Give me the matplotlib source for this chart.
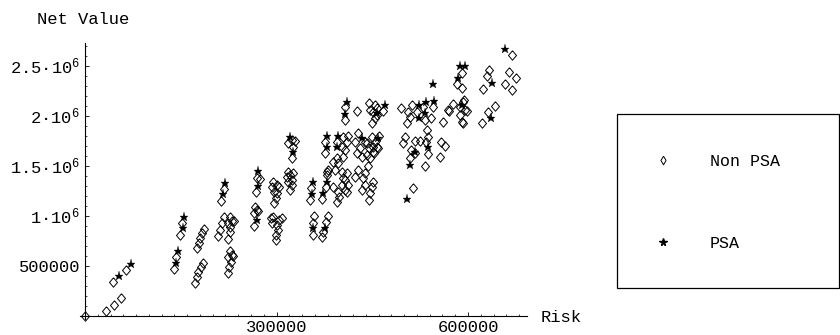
import matplotlib
matplotlib.use('Agg')
import matplotlib.pyplot as plt
from matplotlib.ticker import FixedLocator, MultipleLocator, FixedFormatter
from matplotlib.patches import Rectangle

plt.rcParams['font.family'] = ['Liberation Mono', 'DejaVu Sans']
plt.rcParams['mathtext.fontset'] = 'custom'
plt.rcParams['mathtext.rm'] = 'Liberation Mono'
plt.rcParams['mathtext.default'] = 'regular'

# ---------------- data ----------------
nonpsa_risk = [
    0, 32900, 45400, 55900, 44300, 64200,
    139000, 142100, 149300, 151500,
    175500, 178100, 180900, 183800, 186400,
    172300, 175000, 177500, 181300, 184400,
    217800, 213800,
    208800, 211500, 214200, 217000, 227200, 230300, 234200, 224500, 227900, 226400, 223600,
    227200, 230800, 224500, 228300, 225600, 223600, 232300,
    269000, 273400, 267900, 266300, 269000, 271800, 264800, 264800,
    295000, 292500, 300300, 304400, 296600, 301300, 299200, 296600,
    290900, 295000, 293400, 304400, 308200, 300300, 302800, 299200, 298800,
    323800, 329000, 318500, 325400, 323500,
    318500, 321200, 326300, 316000, 324800, 318500, 323800, 321200,
    353600, 353000, 359200, 357700, 356400, 379600, 377600, 370800, 379900, 377600, 372900, 370800,
    376000, 376000, 394300, 404700, 410000, 412500, 402100, 407300, 404700, 394300, 389000, 396800,
    391700, 381200, 378600, 402100, 410000, 407300, 412500, 402100, 396800, 398400, 395300, 410000, 389000,
    423000, 428200, 438600, 441300, 430800, 425600, 433500, 449200, 461100, 454300, 451700, 445400,
    457000, 459500, 451700, 453200, 441300, 446500, 443800, 438600,
    404700, 407300, 428200, 423000, 436000, 438600, 433500, 451700, 449200, 446500, 445400,
    407300, 407300, 425600, 445400, 454300, 457900, 446500, 457000, 449200, 467300, 454300, 451700,
    494600, 511800, 506500, 509200, 504000, 519600, 532600, 541600, 544700, 560400, 568200, 530000,
    576000, 570700, 591700, 595300, 587500, 590100, 593800, 587500, 598000, 591700,
    590100, 582300, 590100,
    633400, 629300, 624000, 642300, 631300, 621500,
    668900, 664700, 675200, 658000, 668200,
    501300, 497700, 516200, 524800, 510700, 517000, 509900, 535800, 537800, 534200, 537800, 532600,
    557700, 564000, 556200, 513100,
]
nonpsa_value = [
    0, 48000, 108000, 175000, 338000, 455000,
    462000, 588000, 805000, 928000,
    675000, 730000, 780000, 825000, 865000,
    328000, 388000, 438000, 482000, 522000,
    1265000, 1145000,
    800000, 860000, 922000, 982000, 988000, 945000, 948000, 922000, 885000, 832000, 765000,
    650000, 605000, 588000, 538000, 482000, 422000, 595000,
    1380000, 1370000, 1235000, 1085000, 1055000, 1045000, 1022000, 892000,
    1338000, 1288000, 1305000, 1282000, 1238000, 1222000, 1172000, 1122000,
    972000, 988000, 922000, 955000, 972000, 905000, 855000, 805000, 755000,
    1755000, 1750000, 1722000, 1688000, 1572000,
    1438000, 1405000, 1422000, 1388000, 1355000, 1338000, 1305000, 1255000,
    1280000, 1160000, 995000, 925000, 805000, 1438000, 1288000, 1162000, 995000, 935000, 835000, 788000,
    1738000, 1622000, 1738000, 1782000, 1738000, 1795000, 1688000, 1655000, 1588000, 1572000, 1538000, 1522000,
    1455000, 1455000, 1405000, 1438000, 1422000, 1355000, 1305000, 1305000, 1238000, 1188000, 1138000, 1238000, 1288000,
    1738000, 1822000, 1738000, 1722000, 1672000, 1622000, 1588000, 1788000, 1795000, 1738000, 1688000, 1672000,
    1688000, 1672000, 1638000, 1622000, 1605000, 1572000, 1495000, 1422000,
    1372000, 1255000, 1455000, 1388000, 1372000, 1305000, 1255000, 1338000, 1288000, 1222000, 1155000,
    2088000, 1955000, 2048000, 2128000, 2105000, 2072000, 2055000, 2005000, 1922000, 2048000, 1972000, 2038000,
    2072000, 2105000, 2038000, 1988000, 1922000, 2038000, 1955000, 1972000, 2088000, 1938000, 2055000, 2088000,
    2115000, 2050000, 2138000, 2055000, 2005000, 1938000, 2155000, 2088000, 2048000, 1922000,
    2430000, 2320000, 2280000,
    2460000, 2395000, 2265000, 2095000, 2040000, 1925000,
    2605000, 2438000, 2380000, 2318000, 2260000,
    1788000, 1728000, 1750000, 1748000, 1655000, 1622000, 1575000, 1855000, 1790000, 1738000, 1615000, 1495000,
    1738000, 1700000, 1588000, 1280000,
]
psa_risk = [
    53700, 71600,
    143000, 145200, 153100, 155600,
    219800, 215700,
    271500, 271500, 269900,
    321200, 325900,
    356400, 355100, 357700, 379600, 373300, 375200,
    378600, 396800, 378600, 395300,
    433500, 458500,
    410000, 407300, 470000, 457000,
    523700, 534200, 547200, 532600, 523700, 544700,
    590100,
    587500, 595300, 584800,
    637100, 636000,
    658000,
    516200, 536600, 509900, 505200,
]
psa_value = [
    398000, 515000,
    522000, 648000, 872000, 982000,
    1322000, 1212000,
    1445000, 1295000, 952000,
    1785000, 1638000,
    1335000, 1220000, 872000, 1338000, 1222000, 880000,
    1795000, 1795000, 1682000, 1682000,
    1772000, 1772000,
    2138000, 2015000, 2105000, 2028000,
    2105000, 2138000, 2148000, 2028000, 1972000, 2315000,
    2105000,
    2495000, 2495000, 2372000,
    2322000, 1975000,
    2662000,
    1638000, 1682000, 1505000, 1162000,
]
y_ticks = [500000, 1000000, 1500000, 2000000, 2500000]
y_tick_labels = ['500000', '1·10$^{6}$', '1.5·10$^{6}$', '2·10$^{6}$', '2.5·10$^{6}$']
x_ticks = [300000, 600000]
x_tick_labels = ['300000', '600000']
series_names = ['Non PSA', 'PSA']

# ---------------- layout ----------------
W, H = 840, 335
fig = plt.figure(figsize=(W / 100, H / 100), dpi=100)
fig.patch.set_facecolor('white')

x0, x1 = -8000, 692000
y0, y1 = -30000, 2725000
sx = 191.5 / 300000.0
sy = 50.0 / 500000.0
ox, oy = 85.0, 315.5
left = ox + x0 * sx
right = ox + x1 * sx
bottom = oy - y0 * sy
top = oy - y1 * sy
ax = fig.add_axes([left / W, 1 - bottom / H, (right - left) / W, (bottom - top) / H])
ax.set_xlim(x0, x1)
ax.set_ylim(y0, y1)
ax.patch.set_alpha(0)

for s in ['top', 'right']:
    ax.spines[s].set_visible(False)
ax.spines['left'].set_position(('data', 0))
ax.spines['bottom'].set_position(('data', 0))
for s in ['left', 'bottom']:
    ax.spines[s].set_linewidth(0.8)

ax.yaxis.set_major_locator(FixedLocator(y_ticks))
ax.yaxis.set_major_formatter(FixedFormatter(y_tick_labels))
ax.yaxis.set_minor_locator(MultipleLocator(100000))
ax.xaxis.set_major_locator(FixedLocator(x_ticks))
ax.xaxis.set_major_formatter(FixedFormatter(x_tick_labels))
ax.xaxis.set_minor_locator(MultipleLocator(20000))
ax.tick_params(which='major', direction='in', length=3.2, width=0.6, labelsize=12.3, colors='black')
ax.tick_params(which='minor', direction='in', length=1.6, width=0.5)
ax.tick_params(axis='y', which='major', pad=3.6)
ax.tick_params(axis='x', which='major', pad=3.0)

diamond = [(0, 1), (0.85, 0), (0, -1), (-0.85, 0), (0, 1)]
ax.plot(nonpsa_risk, nonpsa_value, linestyle='none', marker=diamond, markersize=6.8,
        markerfacecolor='none', markeredgecolor='black', markeredgewidth=0.7, clip_on=False, zorder=3)
ax.plot(psa_risk, psa_value, linestyle='none', marker='*', markersize=6.6,
        markerfacecolor='black', markeredgecolor='black', markeredgewidth=0.2, clip_on=False, zorder=4)

# overlay in pixel coordinates for labels and legend
ov = fig.add_axes([0, 0, 1, 1])
ov.set_xlim(0, W)
ov.set_ylim(H, 0)
ov.axis('off')
ov.patch.set_alpha(0)

ov.text(37, 20, 'Net Value', fontsize=12.3, ha='left', va='center')
ov.text(541, 317, 'Risk', fontsize=12.3, ha='left', va='center')

ov.add_patch(Rectangle((617, 113.5), 221.5, 174, fill=False, edgecolor='black', linewidth=0.9))
ov.plot([663], [160], linestyle='none', marker=[(0, 1), (0.6, 0), (0, -1), (-0.6, 0), (0, 1)],
        markersize=6.2, markerfacecolor='none', markeredgecolor='black', markeredgewidth=0.7)
ov.plot([663], [241.5], linestyle='none', marker='*', markersize=5.6, color='black')
ov.text(710, 162, series_names[0], fontsize=12.0, ha='left', va='center')
ov.text(710, 243, series_names[1], fontsize=12.0, ha='left', va='center')

fig.savefig('out.png', dpi=100)
